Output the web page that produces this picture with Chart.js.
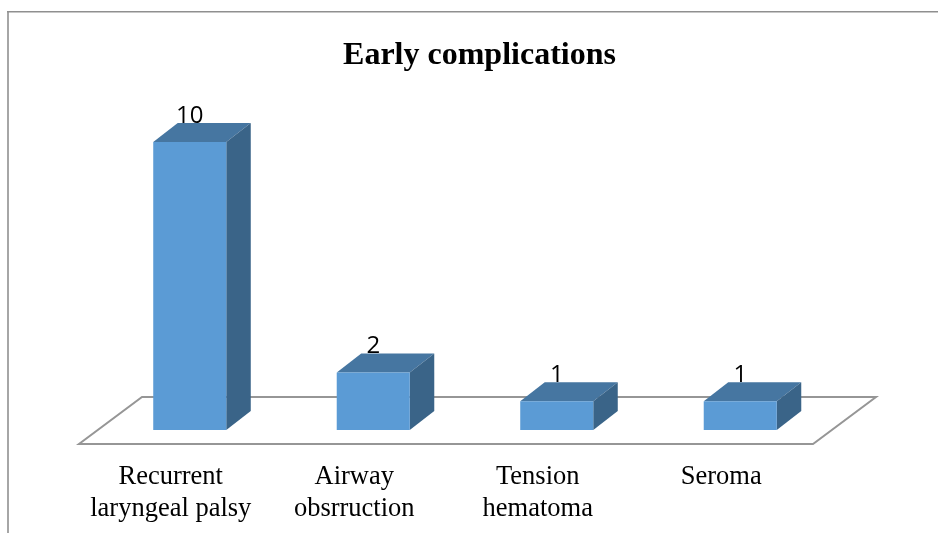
<!DOCTYPE html>
<html>
<head>
<meta charset="utf-8">
<style>
html,body{margin:0;padding:0;background:#fff;overflow:hidden}
#wrap{position:absolute;left:0;top:0;width:938px;height:533px}
</style>
<script src="https://cdn.jsdelivr.net/npm/chart.js@4/dist/chart.umd.min.js"></script>
</head>
<body>
<div id="wrap"><canvas id="c" width="938" height="533"></canvas></div>
<script>
const categories = [["Recurrent","laryngeal palsy"],["Airway","obsrruction"],["Tension","hematoma"],["Seroma"]];
const values = [10, 2, 1, 1];
const chartTitle = "Early complications";

const FRONT = "#5b9bd5", TOP = "#4676a1", SIDE = "#3a6488", LINE = "#969696", FRAME = "#a6a6a6", FRAME_TOP = "#8f8f8f";
const SHIFT_X = 19, SHIFT_Y = -14;      // bars stand inside the floor
const DEPTH_X = 24.5, DEPTH_Y = -19;    // extrusion of each bar
const FLOOR_X = 63, FLOOR_Y = -47;      // floor depth

const frame3d = {
  id: "frame3d",
  beforeDraw(chart) {
    const c = chart.ctx, a = chart.chartArea;
    c.save();
    c.lineWidth = 2;
    c.strokeStyle = FRAME;
    c.beginPath(); c.moveTo(8, 533); c.lineTo(8, 11); c.stroke();
    c.strokeStyle = FRAME_TOP; c.lineWidth = 1.6;
    c.beginPath(); c.moveTo(7, 11.8); c.lineTo(938, 11.8); c.stroke();
    c.strokeStyle = LINE; c.lineWidth = 2; c.lineJoin = "miter";
    c.beginPath();
    c.moveTo(a.left, a.bottom); c.lineTo(a.right, a.bottom);
    c.lineTo(a.right + FLOOR_X, a.bottom + FLOOR_Y);
    c.lineTo(a.left + FLOOR_X, a.bottom + FLOOR_Y);
    c.closePath(); c.stroke();
    c.restore();
  },
  beforeDatasetDraw(chart) {
    const c = chart.ctx;
    c.save();
    c.translate(SHIFT_X, SHIFT_Y);
    chart.getDatasetMeta(0).data.forEach(b => {
      const p = b.getProps(["x","y","base","width"], true);
      const l = p.x - p.width/2, r = p.x + p.width/2;
      c.fillStyle = TOP;
      c.beginPath(); c.moveTo(l,p.y); c.lineTo(l+DEPTH_X,p.y+DEPTH_Y); c.lineTo(r+DEPTH_X,p.y+DEPTH_Y); c.lineTo(r,p.y); c.closePath(); c.fill();
      c.fillStyle = SIDE;
      c.beginPath(); c.moveTo(r,p.y); c.lineTo(r+DEPTH_X,p.y+DEPTH_Y); c.lineTo(r+DEPTH_X,p.base+DEPTH_Y); c.lineTo(r,p.base); c.closePath(); c.fill();
    });
  },
  afterDatasetDraw(chart) {
    const c = chart.ctx;
    c.restore();
    c.save();
    c.fillStyle = "#000";
    c.font = '24px "Open Sans", sans-serif';
    c.textAlign = "center"; c.textBaseline = "alphabetic";
    chart.getDatasetMeta(0).data.forEach((b, i) => {
      const p = b.getProps(["x","y"], true);
      c.fillText(String(values[i]), p.x + SHIFT_X, p.y + SHIFT_Y + DEPTH_Y);
    });
    c.restore();
  }
};

new Chart(document.getElementById("c"), {
  type: "bar",
  data: { labels: categories, datasets: [{ data: values, yAxisID: "y", backgroundColor: FRONT, borderWidth: 0, barPercentage: 0.398, categoryPercentage: 1 }] },
  plugins: [frame3d],
  options: {
    responsive: false, animation: false,
    layout: { padding: { left: 21, right: 0, top: 0, bottom: 0 } },
    plugins: {
      legend: { display: false }, tooltip: { enabled: false },
      title: { display: true, text: chartTitle, color: "#000",
        font: { family: '"Liberation Serif"', size: 32, weight: "bold" },
        padding: { top: 36.5, bottom: 81.1 } }
    },
    scales: {
      x: { grid: { display: false }, border: { display: false },
        afterFit(s) { s.height = 89; },
        ticks: { color: "#000", maxRotation: 0, minRotation: 0, padding: 9,
          font: { family: '"Liberation Serif"', size: 26.5, lineHeight: 1.208 } } },
      y: { position: "left", min: 0, max: 10, grid: { display: false }, border: { display: false },
        ticks: { display: false }, afterFit(s) { s.width = 58; } },
      yRight: { position: "right", grid: { display: false }, border: { display: false },
        ticks: { display: false }, afterFit(s) { s.width = 125; } }
    }
  }
});
</script>
</body>
</html>
